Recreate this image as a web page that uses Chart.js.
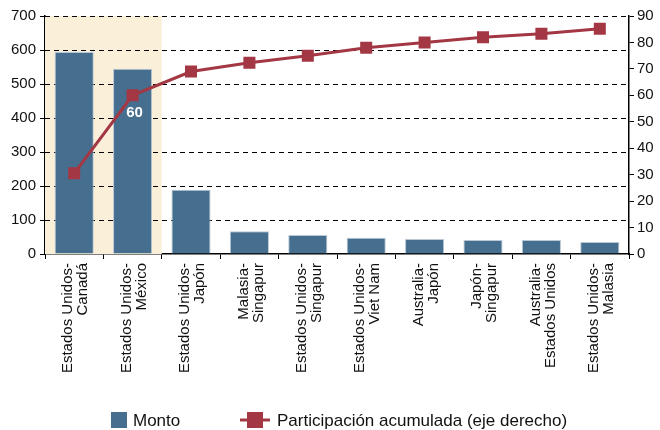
<!DOCTYPE html>
<html>
<head>
<meta charset="utf-8">
<script src="https://cdn.jsdelivr.net/npm/chart.js@4/dist/chart.umd.min.js"></script>
<style>
  html, body { margin: 0; padding: 0; background: #ffffff; }
  #wrap { width: 660px; height: 430px; position: relative; }
</style>
</head>
<body>
<div id="wrap"><canvas id="c" width="660" height="430"></canvas></div>
<script>
// Corredores comerciales: monto y participación acumulada
const categories = [
  ['Estados Unidos-', 'Canadá'],
  ['Estados Unidos-', 'México'],
  ['Estados Unidos-', 'Japón'],
  ['Malasia-', 'Singapur'],
  ['Estados Unidos-', 'Singapur'],
  ['Estados Unidos-', 'Viet Nam'],
  ['Australia-', 'Japón'],
  ['Japón-', 'Singapur'],
  ['Australia-', 'Estados Unidos'],
  ['Estados Unidos-', 'Malasia']
];
const monto = [594, 545, 189, 67, 56, 48, 44, 41, 41, 35];
const acumulada = [30.5, 60, 69, 72.3, 75, 78, 80, 82, 83.3, 85.2];
const leftTicks = [0, 100, 200, 300, 400, 500, 600, 700];
const rightTicks = [0, 10, 20, 30, 40, 50, 60, 70, 80, 90];
const highlighted = 2;      // first corridors shaded in the background
const labelledPoint = 1;    // point whose value is written on the chart
const seriesNames = ['Monto', 'Participación acumulada (eje derecho)'];

const BAR = '#466E8E';
const LINE = '#A33743';
const SHADE = '#FAF0DA';
const FONT = '"Liberation Sans", Arial, sans-serif';

const shadePlugin = {
  id: 'shade',
  beforeDatasetsDraw(chart) {
    const { ctx, chartArea, scales } = chart;
    const x = scales.x;
    const half = (x.getPixelForValue(1) - x.getPixelForValue(0)) / 2;
    const x0 = chartArea.left;
    const x1 = x.getPixelForValue(highlighted - 1) + half;
    ctx.save();
    ctx.fillStyle = SHADE;
    ctx.fillRect(x0, chartArea.top, x1 - x0, chartArea.bottom - chartArea.top);
    ctx.restore();
  }
};

// Dashed grid drawn over the shaded band, under the bars
const gridPlugin = {
  id: 'dashGrid',
  beforeDatasetsDraw(chart) {
    const { ctx, chartArea, scales } = chart;
    ctx.save();
    ctx.strokeStyle = '#000';
    ctx.lineWidth = 1;
    ctx.setLineDash([5, 4]);
    leftTicks.forEach(v => {
      if (v === 0) return;
      const y = Math.round(scales.y.getPixelForValue(v)) + 0.5;
      ctx.beginPath();
      ctx.moveTo(chartArea.left, y);
      ctx.lineTo(chartArea.right, y);
      ctx.stroke();
    });
    ctx.restore();
  }
};

const valueLabelPlugin = {
  id: 'valueLabel',
  afterDatasetsDraw(chart) {
    const { ctx } = chart;
    const meta = chart.getDatasetMeta(1);
    const pt = meta.data[labelledPoint];
    ctx.save();
    ctx.fillStyle = '#ffffff';
    ctx.font = 'bold 15px ' + FONT;
    ctx.textAlign = 'center';
    ctx.textBaseline = 'middle';
    ctx.fillText(String(Math.round(acumulada[labelledPoint])), pt.x + 2, pt.y + 18);
    ctx.restore();
  }
};

const legendPlugin = {
  id: 'customLegend',
  afterDraw(chart) {
    const { ctx } = chart;
    const cy = 420;
    ctx.save();
    ctx.font = '17px ' + FONT;
    ctx.textBaseline = 'middle';
    ctx.fillStyle = BAR;
    ctx.fillRect(111, cy - 8, 16, 16);
    ctx.fillStyle = '#111';
    ctx.fillText(seriesNames[0], 133, cy + 1);
    ctx.strokeStyle = LINE;
    ctx.lineWidth = 3;
    ctx.beginPath();
    ctx.moveTo(240, cy);
    ctx.lineTo(270, cy);
    ctx.stroke();
    ctx.fillStyle = LINE;
    ctx.fillRect(247, cy - 8, 16, 16);
    ctx.fillStyle = '#111';
    ctx.fillText(seriesNames[1], 277, cy + 1);
    ctx.restore();
  }
};

new Chart(document.getElementById('c'), {
  data: {
    labels: categories,
    datasets: [
      {
        type: 'bar',
        label: seriesNames[0],
        data: monto,
        backgroundColor: BAR,
        borderColor: '#B9C8D4',
        borderWidth: { top: 1, left: 1, right: 1, bottom: 0 },
        categoryPercentage: 1,
        barPercentage: 0.67,
        yAxisID: 'y',
        order: 2
      },
      {
        type: 'line',
        label: seriesNames[1],
        data: acumulada,
        borderColor: LINE,
        backgroundColor: LINE,
        borderWidth: 3,
        pointStyle: 'rect',
        pointRadius: 8.5,
        pointHoverRadius: 8.5,
        pointBorderWidth: 0,
        tension: 0,
        yAxisID: 'y1',
        order: 1
      }
    ]
  },
  options: {
    responsive: false,
    animation: false,
    devicePixelRatio: 1,
    layout: { padding: { top: 16, left: 0, right: 0, bottom: 0 } },
    plugins: {
      legend: { display: false },
      tooltip: { enabled: false }
    },
    scales: {
      x: {
        grid: {
          offset: true,
          drawOnChartArea: false,
          drawTicks: true,
          tickLength: 5,
          color: '#000'
        },
        border: { color: '#000', width: 1.5 },
        ticks: {
          color: '#111',
          font: { family: FONT, size: 15, lineHeight: 1.0 },
          minRotation: 90,
          maxRotation: 90,
          autoSkip: false,
          padding: 4,
          labelOffset: -6
        },
        afterFit(scale) { scale.height = 176; }
      },
      y: {
        position: 'left',
        min: 0,
        max: 700,
        afterBuildTicks(scale) { scale.ticks = leftTicks.map(v => ({ value: v })); },
        grid: {
          drawOnChartArea: false,
          tickLength: 5,
          color: '#000'
        },
        border: { color: '#000', width: 1.5 },
        ticks: {
          color: '#111',
          font: { family: FONT, size: 15 },
          padding: 4
        },
        afterFit(scale) { scale.width = 45; }
      },
      y1: {
        position: 'right',
        min: 0,
        max: 90,
        afterBuildTicks(scale) { scale.ticks = rightTicks.map(v => ({ value: v })); },
        grid: {
          drawOnChartArea: false,
          tickLength: 5,
          color: '#000'
        },
        border: { color: '#000', width: 1.5 },
        ticks: {
          color: '#111',
          font: { family: FONT, size: 15 },
          padding: 3
        },
        afterFit(scale) { scale.width = 31; }
      }
    }
  },
  plugins: [shadePlugin, gridPlugin, valueLabelPlugin, legendPlugin]
});
</script>
</body>
</html>
